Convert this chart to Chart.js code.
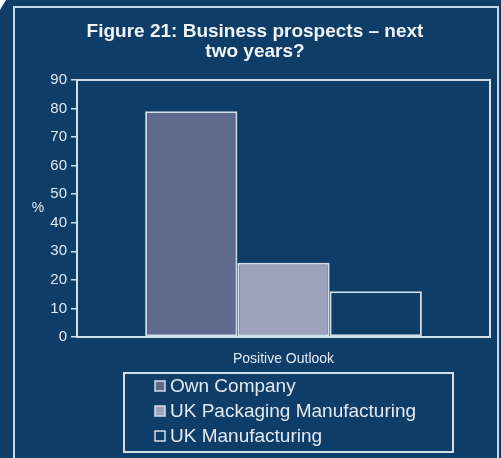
<!DOCTYPE html>
<html>
<head>
<meta charset="utf-8">
<script src="https://cdn.jsdelivr.net/npm/chart.js@4.4.0/dist/chart.umd.min.js"></script>
<style>
html, body { margin: 0; padding: 0; background: #0e3d68; }
canvas { display: block; }
</style>
</head>
<body>
<canvas id="prospects" width="501" height="458"></canvas>
<script>
// categories and series
var categories = ['Positive Outlook'];
var seriesNames = ['Own Company', 'UK Packaging Manufacturing', 'UK Manufacturing'];
var ownCompany = [79];
var ukPackaging = [26];
var ukManufacturing = [16];
var yMin = 0, yMax = 90, yStep = 10;

var navy = '#0e3d68';
var lineColor = '#d3deeb';
var textColor = '#e4eaf2';
var fontFamily = '"Liberation Sans", Arial, Helvetica, sans-serif';

// background, outer frame, plot box, "%" and the boxed legend
var decorations = {
    id: 'decorations',
    beforeDraw: function (chart) {
        var ctx = chart.ctx;
        ctx.save();
        ctx.fillStyle = navy;
        ctx.fillRect(0, 0, chart.width, chart.height);
        // cut corner top left
        ctx.fillStyle = '#ffffff';
        ctx.beginPath();
        ctx.moveTo(0, 0);
        ctx.lineTo(6, 0);
        ctx.lineTo(0, 10);
        ctx.closePath();
        ctx.fill();
        // outer frame
        ctx.strokeStyle = '#c9d7e8';
        ctx.lineWidth = 2;
        ctx.beginPath();
        ctx.moveTo(14, chart.height);
        ctx.lineTo(14, 7);
        ctx.lineTo(498, 7);
        ctx.lineTo(498, chart.height);
        ctx.stroke();
        ctx.restore();
    },
    afterDraw: function (chart) {
        var ctx = chart.ctx;
        var area = chart.chartArea;
        ctx.save();
        ctx.strokeStyle = lineColor;
        ctx.lineWidth = 2;
        ctx.beginPath();
        ctx.moveTo(area.left, area.top);
        ctx.lineTo(area.right, area.top);
        ctx.lineTo(area.right, area.bottom);
        ctx.stroke();

        ctx.fillStyle = textColor;
        ctx.font = '14px ' + fontFamily;
        ctx.textAlign = 'center';
        ctx.textBaseline = 'middle';
        ctx.fillText('%', 38, (area.top + area.bottom) / 2);

        // legend
        var box = { x: 124, y: 373, w: 329, h: 79 };
        ctx.lineWidth = 2;
        ctx.strokeRect(box.x, box.y, box.w, box.h);
        ctx.font = '19px ' + fontFamily;
        ctx.textAlign = 'left';
        chart.data.datasets.forEach(function (ds, i) {
            var cy = 386 + i * 25;
            ctx.fillStyle = ds.backgroundColor;
            ctx.fillRect(155, cy - 5, 10, 10);
            ctx.lineWidth = 1.5;
            ctx.strokeStyle = lineColor;
            ctx.strokeRect(155, cy - 5, 10, 10);
            ctx.fillStyle = textColor;
            ctx.fillText(ds.label, 170, cy + 1);
        });
        ctx.restore();
    }
};

var ctx = document.getElementById('prospects').getContext('2d');

new Chart(ctx, {
    type: 'bar',
    data: {
        labels: categories,
        datasets: [{
            label: seriesNames[0],
            data: ownCompany,
            backgroundColor: '#5f6b8e'
        }, {
            label: seriesNames[1],
            data: ukPackaging,
            backgroundColor: '#9ca1bc'
        }, {
            label: seriesNames[2],
            data: ukManufacturing,
            backgroundColor: navy
        }]
    },
    options: {
        responsive: false,
        animation: false,
        datasets: {
            bar: {
                borderColor: lineColor,
                borderWidth: 2,
                borderSkipped: false,
                categoryPercentage: 0.67,
                barPercentage: 1.0
            }
        },
        layout: {
            padding: { left: 20, right: 11, top: 0, bottom: 85 }
        },
        plugins: {
            legend: { display: false },
            tooltip: { enabled: false },
            title: {
                display: true,
                text: ['Figure 21: Business prospects \u2013 next', 'two years?'],
                color: '#f1f4f8',
                font: { family: fontFamily, size: 19, weight: 'bold', lineHeight: 1.05 },
                padding: { top: 22, bottom: 18 }
            }
        },
        scales: {
            x: {
                grid: { display: false, drawTicks: false },
                border: { display: true, color: lineColor, width: 2 },
                ticks: {
                    color: textColor,
                    padding: 14,
                    font: { family: fontFamily, size: 14 }
                },
                afterFit: function (scale) { scale.height = 36; }
            },
            y: {
                min: yMin,
                max: yMax,
                ticks: {
                    stepSize: yStep,
                    color: textColor,
                    padding: 4,
                    font: { family: fontFamily, size: 15 }
                },
                grid: {
                    drawOnChartArea: false,
                    drawTicks: true,
                    tickLength: 6,
                    color: lineColor,
                    lineWidth: 1.5
                },
                border: { display: true, color: lineColor, width: 2 },
                afterFit: function (scale) { scale.width = 57; }
            }
        }
    },
    plugins: [decorations]
});
</script>
</body>
</html>
